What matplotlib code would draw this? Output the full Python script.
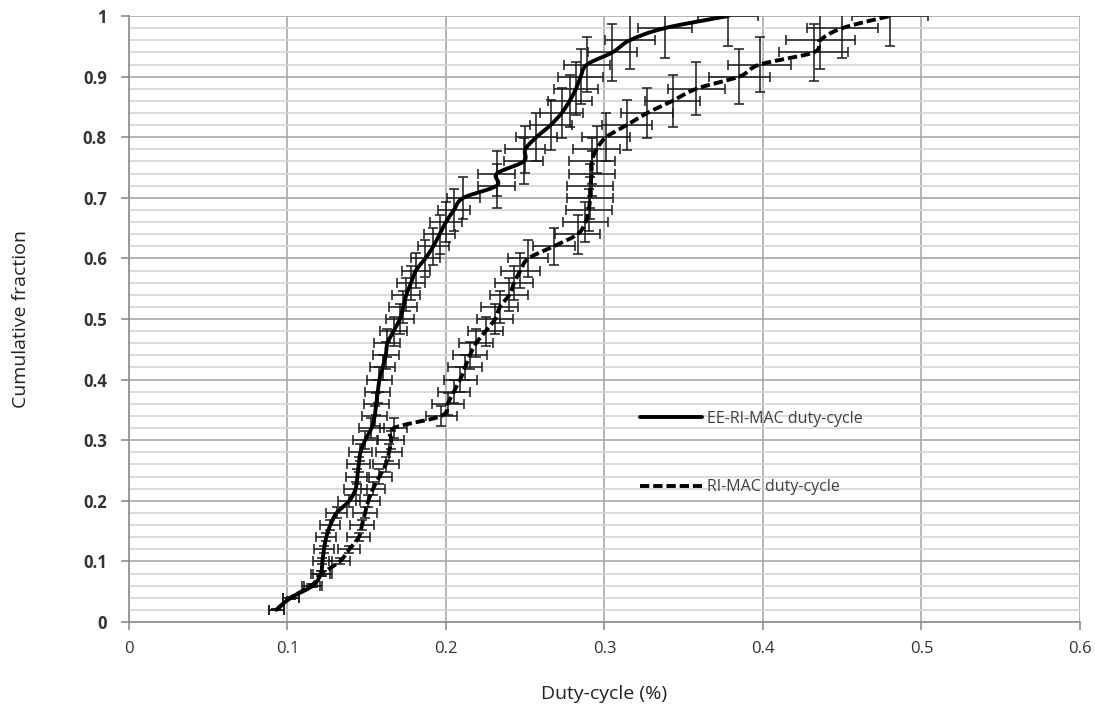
import numpy as np
import matplotlib
matplotlib.use("Agg")
import matplotlib.pyplot as plt

# cumulative fraction levels (shared by both series)
cum_frac = [0.02, 0.04, 0.06, 0.08, 0.10, 0.12, 0.14, 0.16, 0.18, 0.20,
            0.22, 0.24, 0.26, 0.28, 0.30, 0.32, 0.34, 0.36, 0.38, 0.40,
            0.42, 0.44, 0.46, 0.48, 0.50, 0.52, 0.54, 0.56, 0.58, 0.60,
            0.62, 0.64, 0.66, 0.68, 0.70, 0.72, 0.74, 0.76, 0.78, 0.80,
            0.82, 0.84, 0.86, 0.88, 0.90, 0.92, 0.94, 0.96, 0.98, 1.00]

# EE-RI-MAC duty-cycle
ee_duty = [0.093, 0.102, 0.116, 0.121, 0.122, 0.123, 0.1245, 0.127, 0.131, 0.139,
           0.143, 0.144, 0.145, 0.146, 0.149, 0.153, 0.155, 0.156, 0.157, 0.158,
           0.160, 0.162, 0.163, 0.167, 0.171, 0.173, 0.175, 0.178, 0.181, 0.187,
           0.192, 0.196, 0.200, 0.205, 0.211, 0.232, 0.232, 0.249, 0.250, 0.257,
           0.266, 0.273, 0.278, 0.282, 0.285, 0.289, 0.305, 0.316, 0.338, 0.378]

# RI-MAC duty-cycle
ri_duty = [0.093, 0.102, 0.115, 0.122, 0.133, 0.139, 0.145, 0.147, 0.149, 0.151,
           0.154, 0.158, 0.162, 0.164, 0.1655, 0.167, 0.197, 0.201, 0.205, 0.209,
           0.212, 0.215, 0.219, 0.225, 0.231, 0.234, 0.240, 0.243, 0.247, 0.252,
           0.268, 0.283, 0.288, 0.290, 0.291, 0.291, 0.292, 0.292, 0.295, 0.301,
           0.314, 0.327, 0.343, 0.358, 0.385, 0.398, 0.432, 0.436, 0.450, 0.480]

err_pct = 0.05  # percentage error bars (x and y)

xticks = [0, 0.1, 0.2, 0.3, 0.4, 0.5, 0.6]
yticks = [0, 0.1, 0.2, 0.3, 0.4, 0.5, 0.6, 0.7, 0.8, 0.9, 1]


def smooth(x, y, n=8):
    # Catmull-Rom pass through the points, like a spreadsheet "smoothed line"
    p = np.column_stack([x, y])
    p = np.vstack([p[0], p, p[-1]])
    out = []
    for i in range(1, len(p) - 2):
        p0, p1, p2, p3 = p[i - 1], p[i], p[i + 1], p[i + 2]
        for t in np.linspace(0, 1, n, endpoint=False):
            t2, t3 = t * t, t * t * t
            out.append(0.5 * ((2 * p1) + (-p0 + p2) * t
                              + (2 * p0 - 5 * p1 + 4 * p2 - p3) * t2
                              + (-p0 + 3 * p1 - 3 * p2 + p3) * t3))
    out.append(p[-2])
    out = np.array(out)
    return out[:, 0], out[:, 1]


plt.rcParams['font.family'] = ['Open Sans', 'DejaVu Sans']

fig = plt.figure(figsize=(10.95, 7.09), dpi=100)
ax = fig.add_axes([0.1178, 0.1227, 0.8685, 0.8547])

y = np.array(cum_frac)
xe = np.array(ee_duty)
xr = np.array(ri_duty)

ax.errorbar(xe, y, xerr=err_pct * xe, yerr=err_pct * y, fmt='none',
            ecolor='#1a1a1a', elinewidth=1.1, capsize=3.5, capthick=1.1, zorder=3)
ax.errorbar(xr, y, xerr=err_pct * xr, yerr=err_pct * y, fmt='none',
            ecolor='#1a1a1a', elinewidth=1.1, capsize=3.5, capthick=1.1, zorder=3)

sx, sy = smooth(xe, y)
ax.plot(sx, sy, '-', color='black', linewidth=2.8, solid_joinstyle='round',
        solid_capstyle='round', label='EE-RI-MAC duty-cycle', zorder=4)
sx, sy = smooth(xr, y)
ax.plot(sx, sy, '--', color='black', linewidth=2.8, dashes=(2.4, 1.0),
        label='RI-MAC duty-cycle', zorder=4)

ax.set_xlim(0, 0.6)
ax.set_ylim(0, 1)
ax.set_xticks(xticks)
ax.set_yticks(yticks)
ax.set_xticklabels([('%g' % t) for t in xticks])
ax.set_yticklabels([('%g' % t) for t in yticks])
ax.set_yticks(np.arange(0, 1.001, 0.02), minor=True)

ax.grid(True, which='minor', axis='y', color='#d4d4d4', linewidth=1.2)
ax.grid(True, which='major', axis='y', color='#a8a8a8', linewidth=1.2)
ax.grid(True, which='major', axis='x', color='#a8a8a8', linewidth=1.2)
ax.set_axisbelow(True)

for s in ['top', 'right']:
    ax.spines[s].set_visible(False)
for s in ['left', 'bottom']:
    ax.spines[s].set_color('#8c8c8c')
    ax.spines[s].set_linewidth(1.2)

ax.tick_params(axis='both', which='major', direction='out', length=6,
               color='#8c8c8c', width=1.2, labelcolor='#333333')
ax.tick_params(axis='y', which='minor', length=0)
ax.tick_params(axis='y', pad=10, labelsize=12)
ax.tick_params(axis='x', pad=8, labelsize=12)
for lbl in ax.get_yticklabels():
    lbl.set_fontweight('bold')

ax.set_xlabel('Duty-cycle (%)', fontsize=14, color='#222222', labelpad=20)
ax.set_ylabel('Cumulative fraction', fontsize=14, color='#222222', labelpad=38)

leg = ax.legend(loc='upper left', bbox_to_anchor=(0.537, 0.349), frameon=False,
                borderpad=0, borderaxespad=0, handlelength=3.9, handletextpad=0.3,
                labelspacing=3.3, fontsize=11.5)
for t in leg.get_texts():
    t.set_color('#404040')

plt.savefig('out.png', dpi=100)
